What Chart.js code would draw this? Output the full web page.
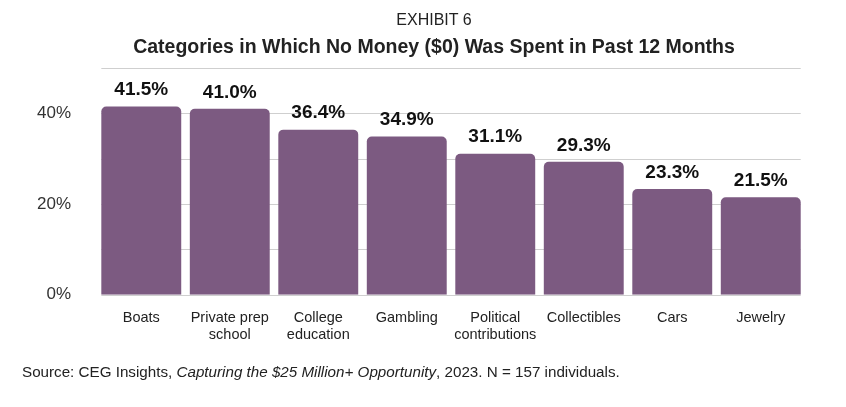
<!doctype html>
<html lang="en">
<head>
  <meta charset="utf-8">
  <script src="https://cdn.jsdelivr.net/npm/chart.js@4/dist/chart.umd.min.js"></script>
  <style>
    html, body { margin: 0; padding: 0; background: #fff; }
    .wrap { position: relative; width: 846px; height: 407px; }
    .wrap canvas { position: absolute; left: 0; top: 0; }
    .t { position: absolute; left: 0; width: 868px; text-align: center; color: #222;
         font-family: "Liberation Sans", Arial, sans-serif; white-space: nowrap; }
    .t1 { top: 11px; font-size: 16px; }
    .t2 { top: 35px; font-size: 19.5px; font-weight: bold; }
    .source {
      position: absolute; left: 22px; top: 363px;
      font: 15.2px "Liberation Sans", Arial, sans-serif;
      color: #222; white-space: nowrap;
    }
  </style>
</head>
<body>
<div class="wrap">
  <canvas id="chart" width="846" height="407"></canvas>
  <div class="t t1">EXHIBIT 6</div>
  <div class="t t2">Categories in Which No Money ($0) Was Spent in Past 12 Months</div>
  <div class="source">Source: CEG Insights, <i>Capturing the $25 Million+ Opportunity</i>, 2023. N = 157 individuals.</div>
</div>
<script>
  const categories = [
    ['Boats'], ['Private prep', 'school'], ['College', 'education'], ['Gambling'],
    ['Political', 'contributions'], ['Collectibles'], ['Cars'], ['Jewelry']
  ];
  const values = [41.5, 41.0, 36.4, 34.9, 31.1, 29.3, 23.3, 21.5];
  const gridValues = [0, 10, 20, 30, 40, 50];
  const tickLabels = [0, 20, 40];

  const barColor = '#7c5a81';

  // gridlines run from the first bar's left edge to the last bar's right edge
  const flushGrid = {
    id: 'flushGrid',
    beforeDatasetsDraw(chart) {
      const ctx = chart.ctx;
      const bars = chart.getDatasetMeta(0).data;
      const y = chart.scales.y;
      const x0 = bars[0].x - bars[0].width / 2;
      const x1 = bars[bars.length - 1].x + bars[bars.length - 1].width / 2;
      ctx.save();
      ctx.strokeStyle = '#cfcfcf';
      ctx.lineWidth = 1;
      gridValues.forEach(v => {
        const py = Math.round(y.getPixelForValue(v)) + 0.5;
        ctx.beginPath();
        ctx.moveTo(x0, py);
        ctx.lineTo(x1, py);
        ctx.stroke();
      });
      ctx.restore();
    }
  };

  // value labels above each bar
  const valueLabels = {
    id: 'valueLabels',
    afterDatasetsDraw(chart) {
      const ctx = chart.ctx;
      const meta = chart.getDatasetMeta(0);
      ctx.save();
      ctx.font = 'bold 19px "Liberation Sans", Arial, sans-serif';
      ctx.fillStyle = '#111';
      ctx.textAlign = 'center';
      ctx.textBaseline = 'bottom';
      meta.data.forEach((bar, i) => {
        ctx.fillText(values[i].toFixed(1) + '%', bar.x, bar.y - 7);
      });
      ctx.restore();
    }
  };

  new Chart(document.getElementById('chart'), {
    type: 'bar',
    data: {
      labels: categories,
      datasets: [{
        data: values,
        backgroundColor: barColor,
        borderRadius: { topLeft: 5, topRight: 5 },
        borderSkipped: 'bottom',
        categoryPercentage: 1.0,
        barPercentage: 0.903
      }]
    },
    options: {
      responsive: false,
      animation: false,
      layout: { padding: { left: 11, right: 41, top: 68, bottom: 57 } },
      plugins: {
        legend: { display: false },
        tooltip: { enabled: false }
      },
      scales: {
        x: {
          grid: { display: false },
          border: { display: false },
          ticks: {
            color: '#222',
            padding: 7,
            maxRotation: 0,
            autoSkip: false,
            font: { family: '"Liberation Sans", Arial', size: 14.5, lineHeight: 1.15 }
          }
        },
        y: {
          min: 0,
          max: 50,
          grid: { display: false, drawTicks: false },
          border: { display: false },
          ticks: {
            stepSize: 10,
            padding: 26,
            color: '#333',
            font: { family: '"Liberation Sans", Arial', size: 17 },
            callback: v => tickLabels.includes(v) ? v + '%' : ''
          }
        }
      }
    },
    plugins: [flushGrid, valueLabels]
  });
</script>
</body>
</html>
